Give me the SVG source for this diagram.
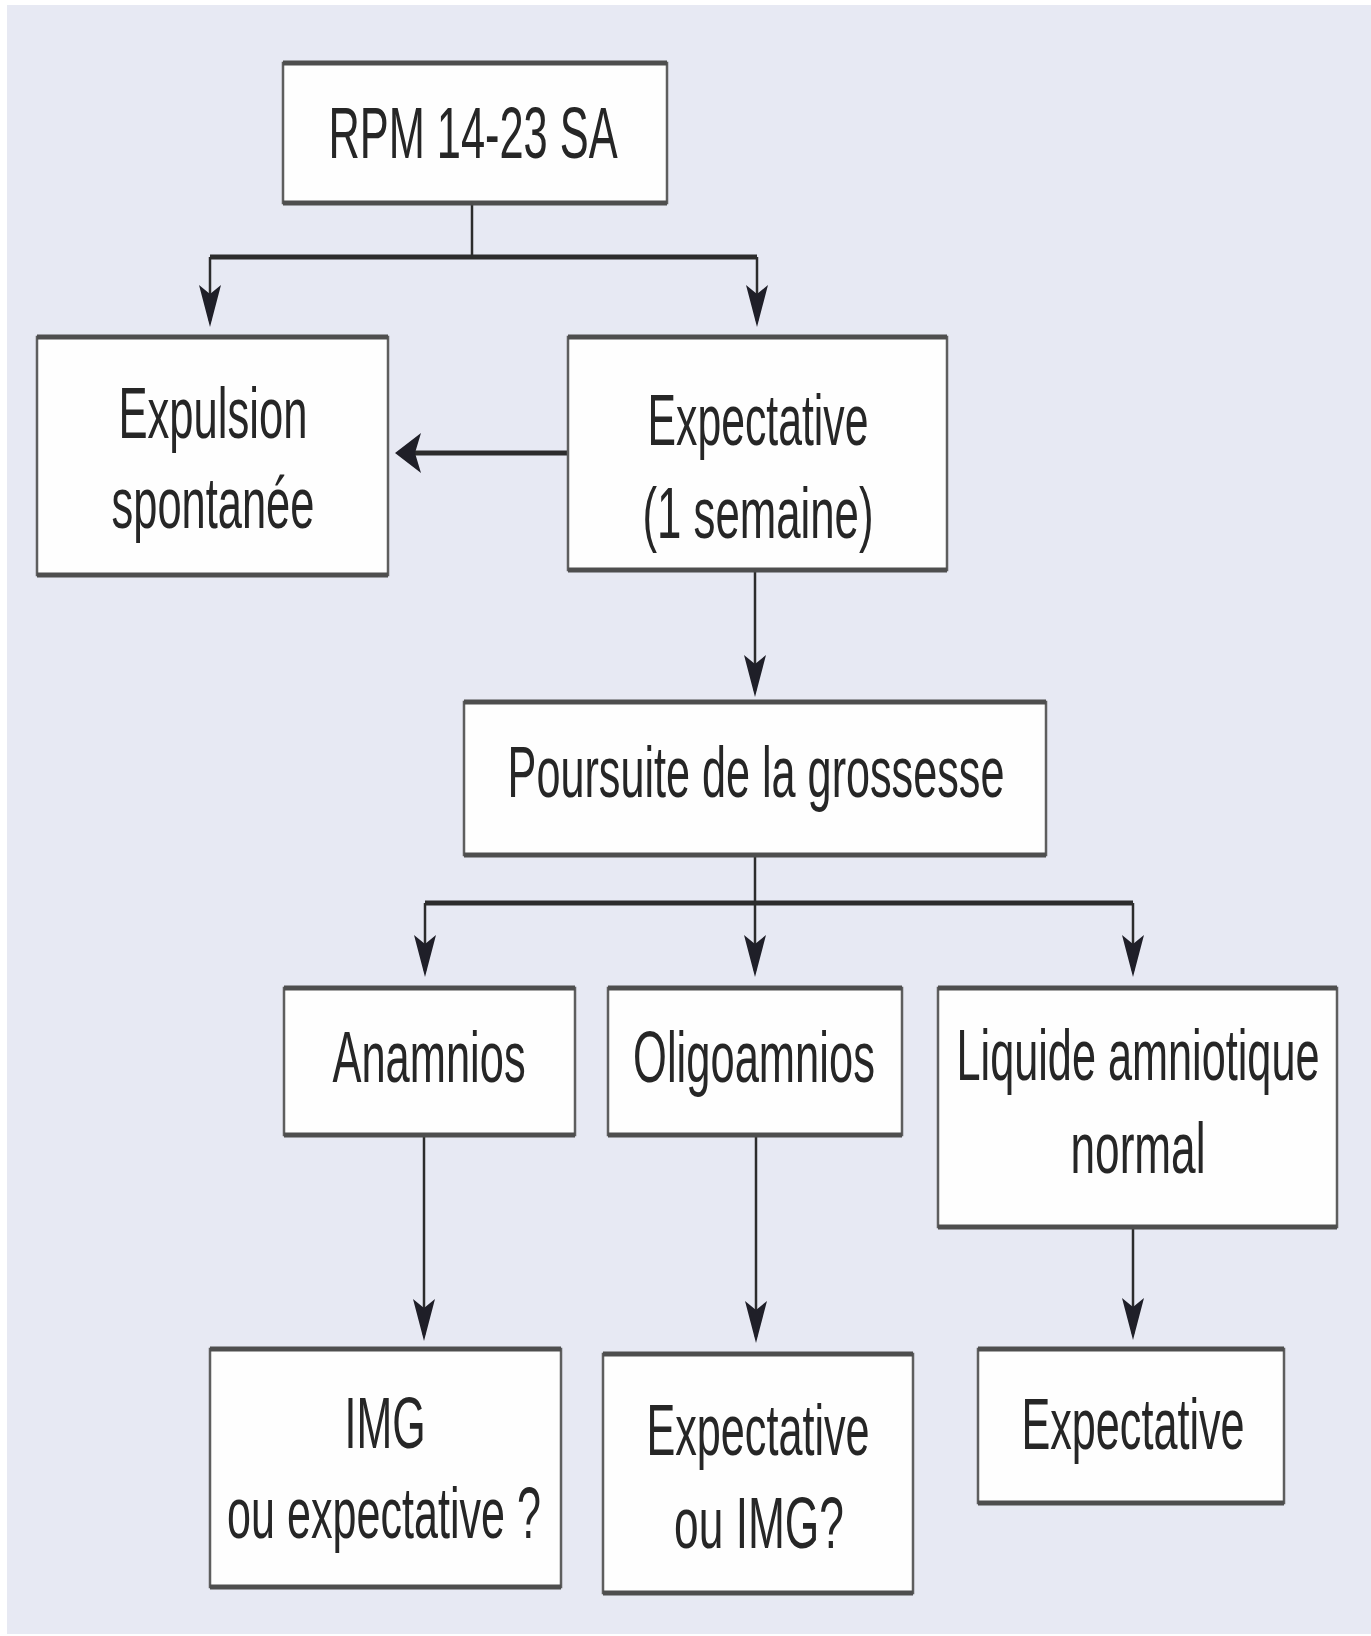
<svg xmlns="http://www.w3.org/2000/svg" width="1371" height="1636" viewBox="0 0 1371 1636">
<style>
.bg{fill:#e7e9f3}
.box{fill:#fefefe;stroke:#5e5e5e;stroke-width:2.5}
.edge{fill:none;stroke:#4e4e4e;stroke-width:5}
.v{fill:none;stroke:#2c2c2c;stroke-width:2.5}
.h{fill:none;stroke:#2c2c2c;stroke-width:5}
.t{font-family:"Liberation Sans",Arial,sans-serif;font-size:72px;fill:#262626;text-anchor:middle}
.ah{fill:#1f1f28}
</style>
<defs>
<marker id="arrowV" markerUnits="userSpaceOnUse" viewBox="-36 -12 42 24" refX="0" refY="0" markerWidth="42" markerHeight="24" orient="auto">
<path class="ah" d="M6,0 L-36,-11 L-27,0 L-36,11 Z"/>
</marker>
<marker id="arrowH" markerUnits="userSpaceOnUse" viewBox="-22 -21 28 42" refX="0" refY="0" markerWidth="28" markerHeight="42" orient="auto">
<path class="ah" d="M6,0 L-20,-20 L-14,0 L-20,20 Z"/>
</marker>
</defs>
<rect x="0" y="0" width="1371" height="1636" fill="#ffffff"/>
<rect class="bg" x="7" y="5" width="1364" height="1629"/>

<g id="connectors">
<path class="v" d="M472,203 V257"/>
<path class="h" d="M210,257 H757"/>
<path class="v" d="M210,257 V321" marker-end="url(#arrowV)"/>
<path class="v" d="M757,257 V321" marker-end="url(#arrowV)"/>
<path class="h" d="M568,453 H401" marker-end="url(#arrowH)"/>
<path class="v" d="M755,570 V691" marker-end="url(#arrowV)"/>
<path class="v" d="M755,855 V971" marker-end="url(#arrowV)"/>
<path class="h" d="M425,903 H1133"/>
<path class="v" d="M425,903 V971" marker-end="url(#arrowV)"/>
<path class="v" d="M1133,903 V971" marker-end="url(#arrowV)"/>
<path class="v" d="M424,1135 V1335" marker-end="url(#arrowV)"/>
<path class="v" d="M756,1135 V1337" marker-end="url(#arrowV)"/>
<path class="v" d="M1133,1227 V1334" marker-end="url(#arrowV)"/>
</g>

<g id="n-rpm">
<rect class="box" x="283" y="63" width="384" height="140"/>
<path class="edge" d="M283,63 H667 M283,203 H667"/>
<text class="t" transform="translate(473 158) scale(0.6 1)" x="0" y="0" font-size="74" textLength="482" lengthAdjust="spacingAndGlyphs">RPM 14-23 SA</text>
</g>

<g id="n-expulsion">
<rect class="box" x="37" y="337" width="351" height="238"/>
<path class="edge" d="M37,337 H388 M37,575 H388"/>
<text class="t" transform="translate(213 438) scale(0.6 1)" x="0" y="0" textLength="315" lengthAdjust="spacingAndGlyphs">Expulsion</text>
<text class="t" transform="translate(213 528) scale(0.6 1)" x="0" y="0" textLength="338" lengthAdjust="spacingAndGlyphs">spontanée</text>
</g>

<g id="n-expectative1">
<rect class="box" x="568" y="337" width="379" height="233"/>
<path class="edge" d="M568,337 H947 M568,570 H947"/>
<text class="t" transform="translate(758 445) scale(0.6 1)" x="0" y="0" textLength="368" lengthAdjust="spacingAndGlyphs">Expectative</text>
<text class="t" transform="translate(758 538) scale(0.6 1)" x="0" y="0" textLength="385" lengthAdjust="spacingAndGlyphs">(1 semaine)</text>
</g>

<g id="n-poursuite">
<rect class="box" x="464" y="702" width="582" height="153"/>
<path class="edge" d="M464,702 H1046 M464,855 H1046"/>
<text class="t" transform="translate(756 797) scale(0.6 1)" x="0" y="0" textLength="828" lengthAdjust="spacingAndGlyphs">Poursuite de la grossesse</text>
</g>

<g id="n-anamnios">
<rect class="box" x="284" y="988" width="291" height="147"/>
<path class="edge" d="M284,988 H575 M284,1135 H575"/>
<text class="t" transform="translate(429 1082) scale(0.6 1)" x="0" y="0" textLength="322" lengthAdjust="spacingAndGlyphs">Anamnios</text>
</g>

<g id="n-oligoamnios">
<rect class="box" x="608" y="988" width="294" height="147"/>
<path class="edge" d="M608,988 H902 M608,1135 H902"/>
<text class="t" transform="translate(754 1082) scale(0.6 1)" x="0" y="0" textLength="403" lengthAdjust="spacingAndGlyphs">Oligoamnios</text>
</g>

<g id="n-liquide">
<rect class="box" x="938" y="988" width="399" height="239"/>
<path class="edge" d="M938,988 H1337 M938,1227 H1337"/>
<text class="t" transform="translate(1138 1080) scale(0.6 1)" x="0" y="0" textLength="605" lengthAdjust="spacingAndGlyphs">Liquide amniotique</text>
<text class="t" transform="translate(1138 1173) scale(0.6 1)" x="0" y="0" textLength="225" lengthAdjust="spacingAndGlyphs">normal</text>
</g>

<g id="n-img">
<rect class="box" x="210" y="1349" width="351" height="238"/>
<path class="edge" d="M210,1349 H561 M210,1587 H561"/>
<text class="t" transform="translate(385 1448) scale(0.6 1)" x="0" y="0" textLength="135" lengthAdjust="spacingAndGlyphs">IMG</text>
<text class="t" transform="translate(384 1538) scale(0.6 1)" x="0" y="0" textLength="523" lengthAdjust="spacingAndGlyphs">ou expectative ?</text>
</g>

<g id="n-expectative-img">
<rect class="box" x="603" y="1354" width="310" height="239"/>
<path class="edge" d="M603,1354 H913 M603,1593 H913"/>
<text class="t" transform="translate(758 1455) scale(0.6 1)" x="0" y="0" textLength="372" lengthAdjust="spacingAndGlyphs">Expectative</text>
<text class="t" transform="translate(759 1548) scale(0.6 1)" x="0" y="0" textLength="283" lengthAdjust="spacingAndGlyphs">ou IMG?</text>
</g>

<g id="n-expectative2">
<rect class="box" x="978" y="1349" width="306" height="154"/>
<path class="edge" d="M978,1349 H1284 M978,1503 H1284"/>
<text class="t" transform="translate(1133 1449) scale(0.6 1)" x="0" y="0" textLength="372" lengthAdjust="spacingAndGlyphs">Expectative</text>
</g>
</svg>
